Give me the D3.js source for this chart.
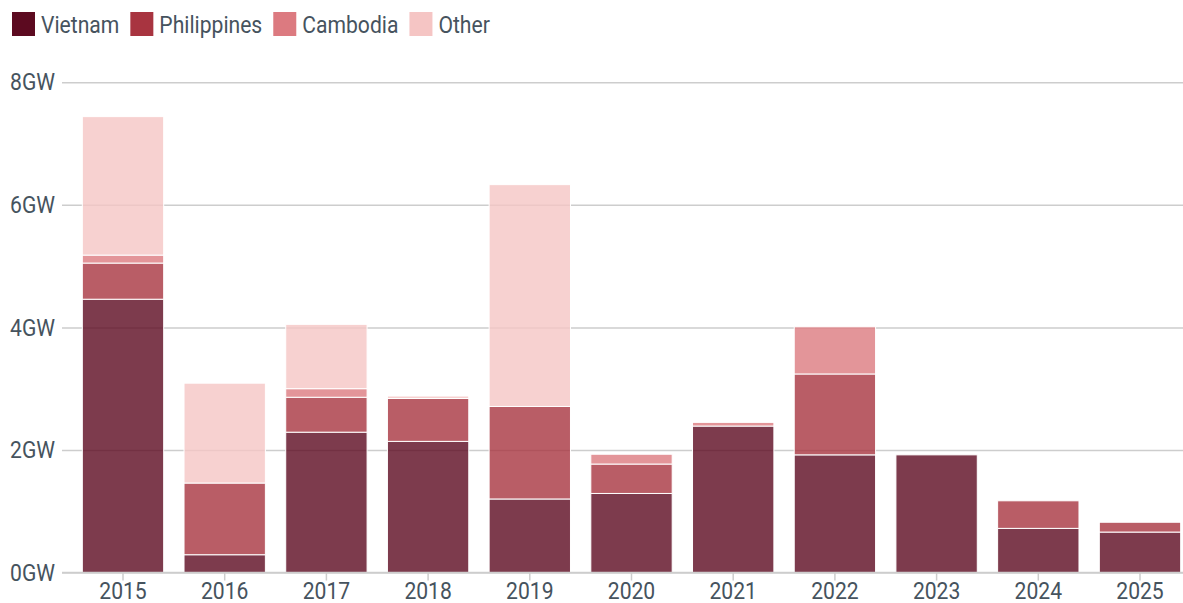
<!DOCTYPE html>
<html>
<head>
<meta charset="utf-8">
<script src="https://cdn.jsdelivr.net/npm/d3@7"></script>
<style>
  html, body { margin: 0; padding: 0; background: #fff; }
  svg { display: block; }
  text { font-family: Roboto, "Noto Sans", sans-serif; fill: #46535e; }
</style>
</head>
<body>
<svg id="chart" width="1183" height="603"></svg>
<script>
// Annual capacity by country, GW
const years = ["2015", "2016", "2017", "2018", "2019", "2020", "2021", "2022", "2023", "2024", "2025"];
const vietnam     = [4.46, 0.29, 2.29, 2.14, 1.20, 1.29, 2.39, 1.92, 1.92, 0.72, 0.66];
const philippines = [0.59, 1.17, 0.57, 0.70, 1.51, 0.48, 0.00, 1.32, 0.00, 0.45, 0.16];
const cambodia    = [0.13, 0.00, 0.14, 0.00, 0.00, 0.16, 0.06, 0.77, 0.00, 0.00, 0.00];
const other       = [2.26, 1.63, 1.05, 0.04, 3.62, 0.00, 0.00, 0.00, 0.00, 0.00, 0.00];
const seriesNames = ["Vietnam", "Philippines", "Cambodia", "Other"];
const yTicks = [0, 2, 4, 6, 8];

const colors = ["#5c0a20", "#a83440", "#dc7a80", "#f5c5c4"];

const svg = d3.select("#chart");
const W = 1183;
const FONT_SIZE = 24;

// Condensed look: measure a reference word and squeeze text horizontally
const probe = svg.append("text").attr("font-size", FONT_SIZE).text("Philippines");
const squeezeK = Math.min(1, 103 / probe.node().getComputedTextLength());
probe.remove();

function squeeze(sel) {
  sel.each(function () {
    const t = d3.select(this);
    const ax = +t.attr("x") || 0;
    t.attr("transform", `translate(${ax * (1 - squeezeK)},0) scale(${squeezeK},1)`);
  });
}

const x = d3.scaleBand()
  .domain(years)
  .range([72.15, 1190.85])
  .paddingInner(0.2)
  .paddingOuter(0.1);

const y = d3.scaleLinear().domain([0, 8]).range([572.5, 82.3]);

const color = d3.scaleOrdinal().domain(seriesNames).range(colors);

// Gridlines and y labels
const yAxis = d3.axisLeft(y)
  .tickValues(yTicks)
  .tickFormat(d => d + "GW")
  .tickSize(-(W - 62))
  .tickPadding(7);

const gy = svg.append("g")
  .attr("transform", "translate(62,0)")
  .call(yAxis);
gy.select(".domain").remove();
gy.selectAll(".tick line").attr("stroke", "#cdcdcd").attr("stroke-width", 1.5);
gy.selectAll(".tick text")
  .attr("font-size", FONT_SIZE)
  .attr("fill", "#46535e")
  .style("font-family", "Roboto, 'Noto Sans', sans-serif")
  .call(squeeze);

// Stacked bars
const rows = years.map((yr, i) => ({
  year: yr,
  Vietnam: vietnam[i],
  Philippines: philippines[i],
  Cambodia: cambodia[i],
  Other: other[i]
}));

const stack = d3.stack().keys(seriesNames)(rows);

svg.append("g")
  .selectAll("g")
  .data(stack)
  .join("g")
  .attr("fill", d => color(d.key))
  .attr("fill-opacity", 0.8)
  .selectAll("rect")
  .data(d => d.filter(s => s[1] - s[0] > 0))
  .join("rect")
  .attr("x", d => x(d.data.year))
  .attr("width", x.bandwidth())
  .attr("y", d => y(d[1]))
  .attr("height", d => y(d[0]) - y(d[1]))
  .attr("stroke", "#fff")
  .attr("stroke-width", 1);

// X axis
const xAxis = d3.axisBottom(x).tickSize(8).tickPadding(1.5);
const gx = svg.append("g")
  .attr("transform", `translate(0,${y(0)})`)
  .call(xAxis);
gx.select(".domain").remove();
gx.selectAll(".tick line").attr("stroke", "#cdcdcd").attr("stroke-width", 1.5);
gx.selectAll(".tick text")
  .attr("font-size", FONT_SIZE)
  .attr("fill", "#46535e")
  .style("font-family", "Roboto, 'Noto Sans', sans-serif")
  .call(squeeze);

// Baseline
svg.append("line")
  .attr("x1", 62).attr("x2", W)
  .attr("y1", y(0)).attr("y2", y(0))
  .attr("stroke", "#cdcdcd").attr("stroke-width", 1.5);

// Legend: swatch, label, then the next item follows the label
const legend = svg.append("g").attr("transform", "translate(12,12)");
let cursor = 0;
seriesNames.forEach(name => {
  const item = legend.append("g").attr("transform", `translate(${cursor},0)`);
  item.append("rect")
    .attr("width", 23).attr("height", 24)
    .attr("fill", color(name));
  const label = item.append("text")
    .attr("x", 29)
    .attr("y", 21)
    .attr("font-size", FONT_SIZE)
    .text(name)
    .call(squeeze);
  cursor += 29 + label.node().getComputedTextLength() * squeezeK + 11;
});
</script>
</body>
</html>
